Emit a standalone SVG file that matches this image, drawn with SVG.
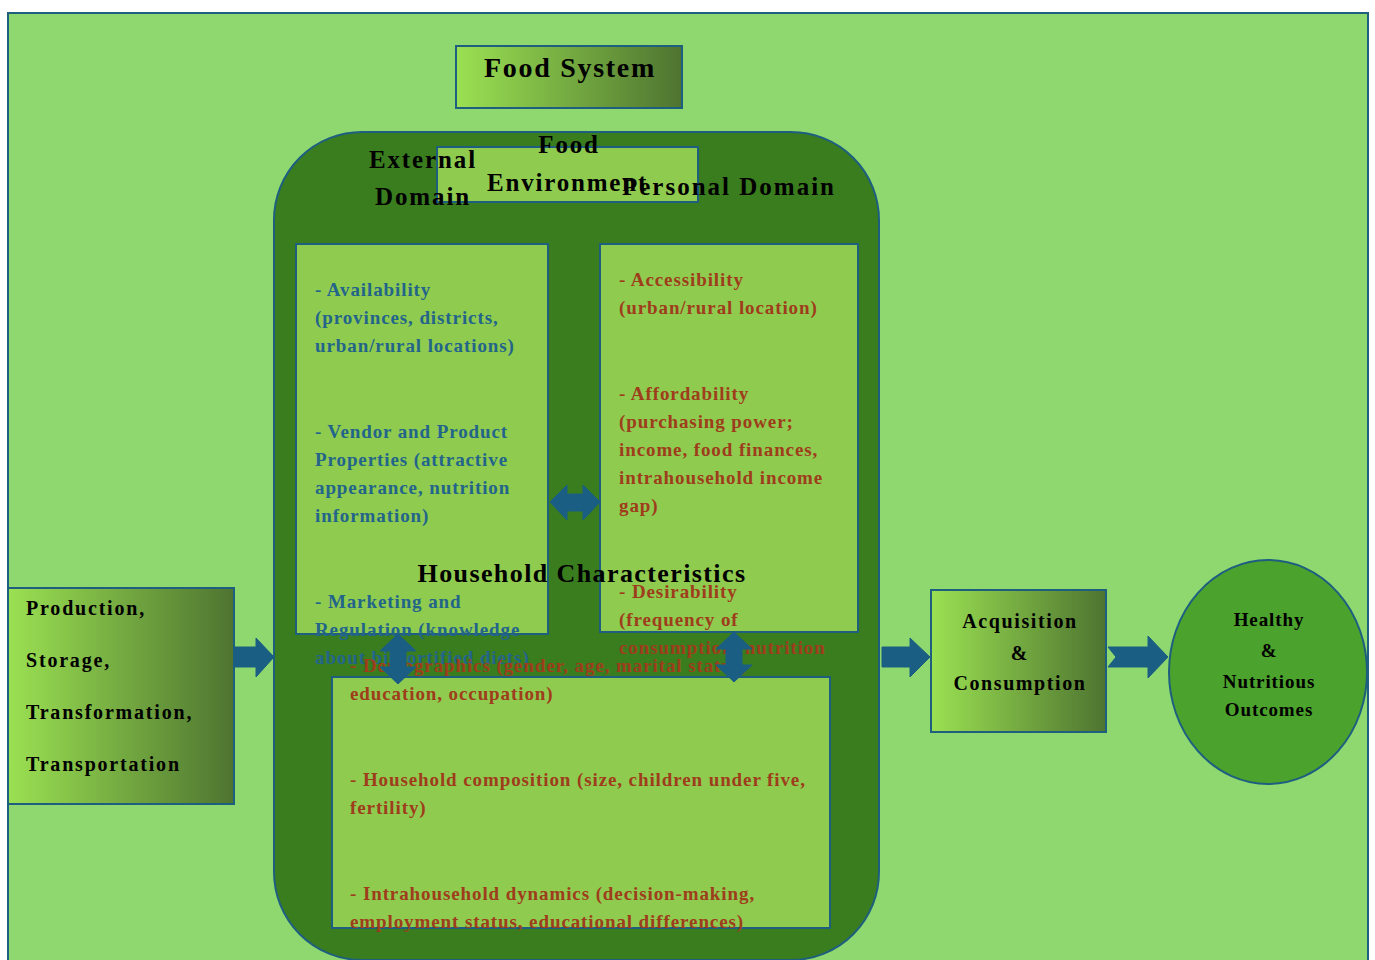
<svg xmlns="http://www.w3.org/2000/svg" width="1375" height="960" viewBox="0 0 1375 960">
<defs>
<linearGradient id="g" x1="0" y1="0" x2="1" y2="0">
<stop offset="0" stop-color="#9BE152"/>
<stop offset="1" stop-color="#4E7430"/>
</linearGradient>
<style>
.st{stroke:#1E5F80;stroke-width:2}
.ar{fill:#1B5E83;stroke:#1B5E83;stroke-width:1}
text{font-family:"Liberation Serif","Times New Roman",serif;font-weight:bold}
.h{fill:#000}
.b{fill:#23658A;font-size:19px;letter-spacing:0.9px}
.r{fill:#9E3D1C;font-size:19px;letter-spacing:0.9px}
.c{text-anchor:middle}
</style>
</defs>
<rect width="1375" height="960" fill="#fff"/>
<rect id="frame" x="8" y="13" width="1360" height="960" fill="#8ED86F" class="st"/>

<g id="food-system">
<rect x="456" y="46" width="226" height="62" fill="url(#g)" class="st"/>
<text x="570" y="77" class="h c" font-size="28" letter-spacing="1.7">Food System</text>
</g>

<g id="container">
<rect x="274" y="132" width="605" height="828" rx="88" ry="88" fill="#3A7D1F" class="st"/>
</g>

<g id="food-environment">
<rect x="437" y="147" width="261" height="55" fill="#8FCB4F" class="st"/>
<text x="569" y="153" class="h c" font-size="25" letter-spacing="1.8">Food</text>
<text x="487" y="191" class="h" font-size="25" letter-spacing="1.8">Environment</text>
</g>

<g id="external-label">
<text x="423" y="168" class="h c" font-size="25" letter-spacing="1.9">External</text>
<text x="423" y="205" class="h c" font-size="25" letter-spacing="1.9">Domain</text>
</g>
<g id="personal-label">
<text x="622" y="195" class="h" font-size="25" letter-spacing="2">Personal Domain</text>
</g>

<g id="external-box">
<rect x="296" y="244" width="252" height="390" fill="#8FCB4F" class="st"/>
<text class="b"><tspan x="315" y="296">- Availability</tspan><tspan x="315" y="324">(provinces, districts,</tspan><tspan x="315" y="352">urban/rural locations)</tspan><tspan x="315" y="438">- Vendor and Product</tspan><tspan x="315" y="466">Properties (attractive</tspan><tspan x="315" y="494">appearance, nutrition</tspan><tspan x="315" y="522">information)</tspan><tspan x="315" y="608">- Marketing and</tspan><tspan x="315" y="636">Regulation (knowledge</tspan><tspan x="315" y="664">about biofortified diets)</tspan></text>
</g>

<g id="personal-box">
<rect x="600" y="244" width="258" height="388" fill="#8FCB4F" class="st"/>
<text class="r"><tspan x="619" y="286">- Accessibility</tspan><tspan x="619" y="314">(urban/rural location)</tspan><tspan x="619" y="400">- Affordability</tspan><tspan x="619" y="428">(purchasing power;</tspan><tspan x="619" y="456">income, food finances,</tspan><tspan x="619" y="484">intrahousehold income</tspan><tspan x="619" y="512">gap)</tspan><tspan x="619" y="598">- Desirability</tspan><tspan x="619" y="626">(frequency of</tspan><tspan x="619" y="654">consumption, nutrition</tspan></text>
</g>

<g id="household-box">
<rect x="332" y="677" width="498" height="251" fill="#8FCB4F" class="st"/>
<text class="r"><tspan x="350" y="672">- Demographics (gender, age, marital status,</tspan><tspan x="350" y="700">education, occupation)</tspan><tspan x="350" y="786">- Household composition (size, children under five,</tspan><tspan x="350" y="814">fertility)</tspan><tspan x="350" y="900">- Intrahousehold dynamics (decision-making,</tspan><tspan x="350" y="928">employment status, educational differences)</tspan></text>
</g>

<g id="household-label">
<text x="582" y="582" class="h c" font-size="26" letter-spacing="1.4">Household Characteristics</text>
</g>

<g id="production">
<rect x="8" y="588" width="226" height="216" fill="url(#g)" class="st"/>
<text class="h" font-size="20" letter-spacing="1.8"><tspan x="26" y="615">Production,</tspan><tspan x="26" y="667">Storage,</tspan><tspan x="26" y="719">Transformation,</tspan><tspan x="26" y="771">Transportation</tspan></text>
</g>

<g id="acquisition">
<rect x="931" y="590" width="175" height="142" fill="url(#g)" class="st"/>
<text class="h c" font-size="20" letter-spacing="1.6"><tspan x="1020" y="628">Acquisition</tspan><tspan x="1020" y="660">&amp;</tspan><tspan x="1020" y="690">Consumption</tspan></text>
</g>

<g id="outcomes">
<ellipse cx="1268" cy="672" rx="99" ry="112" fill="#4BA22C" class="st"/>
<text class="h c" font-size="19" letter-spacing="0.9"><tspan x="1269" y="626">Healthy</tspan><tspan x="1269" y="657">&amp;</tspan><tspan x="1269" y="688">Nutritious</tspan><tspan x="1269" y="716">Outcomes</tspan></text>
</g>

<g id="connectors">
<path class="ar" d="M234,647 H256 V638 L274,657 L256,677 V667 H234 Z"/>
<path class="ar" d="M882,647 H910 V638 L930,657 L910,677 V667 H882 Z"/>
<path class="ar" d="M1108,647 H1148 V636 L1168,657 L1148,678 V667 H1108 L1116,657 Z"/>
<path class="ar" d="M550,502 L567,485 V494 H583 V485 L600,502 L583,520 V511 H567 V520 Z"/>
<path class="ar" d="M398,634 L416,651 H406 V667 H416 L398,684 L380,667 H390 V651 H380 Z"/>
<path class="ar" d="M734,632 L752,649 H742 V665 H752 L734,682 L716,665 H726 V649 H716 Z"/>
</g>
</svg>
